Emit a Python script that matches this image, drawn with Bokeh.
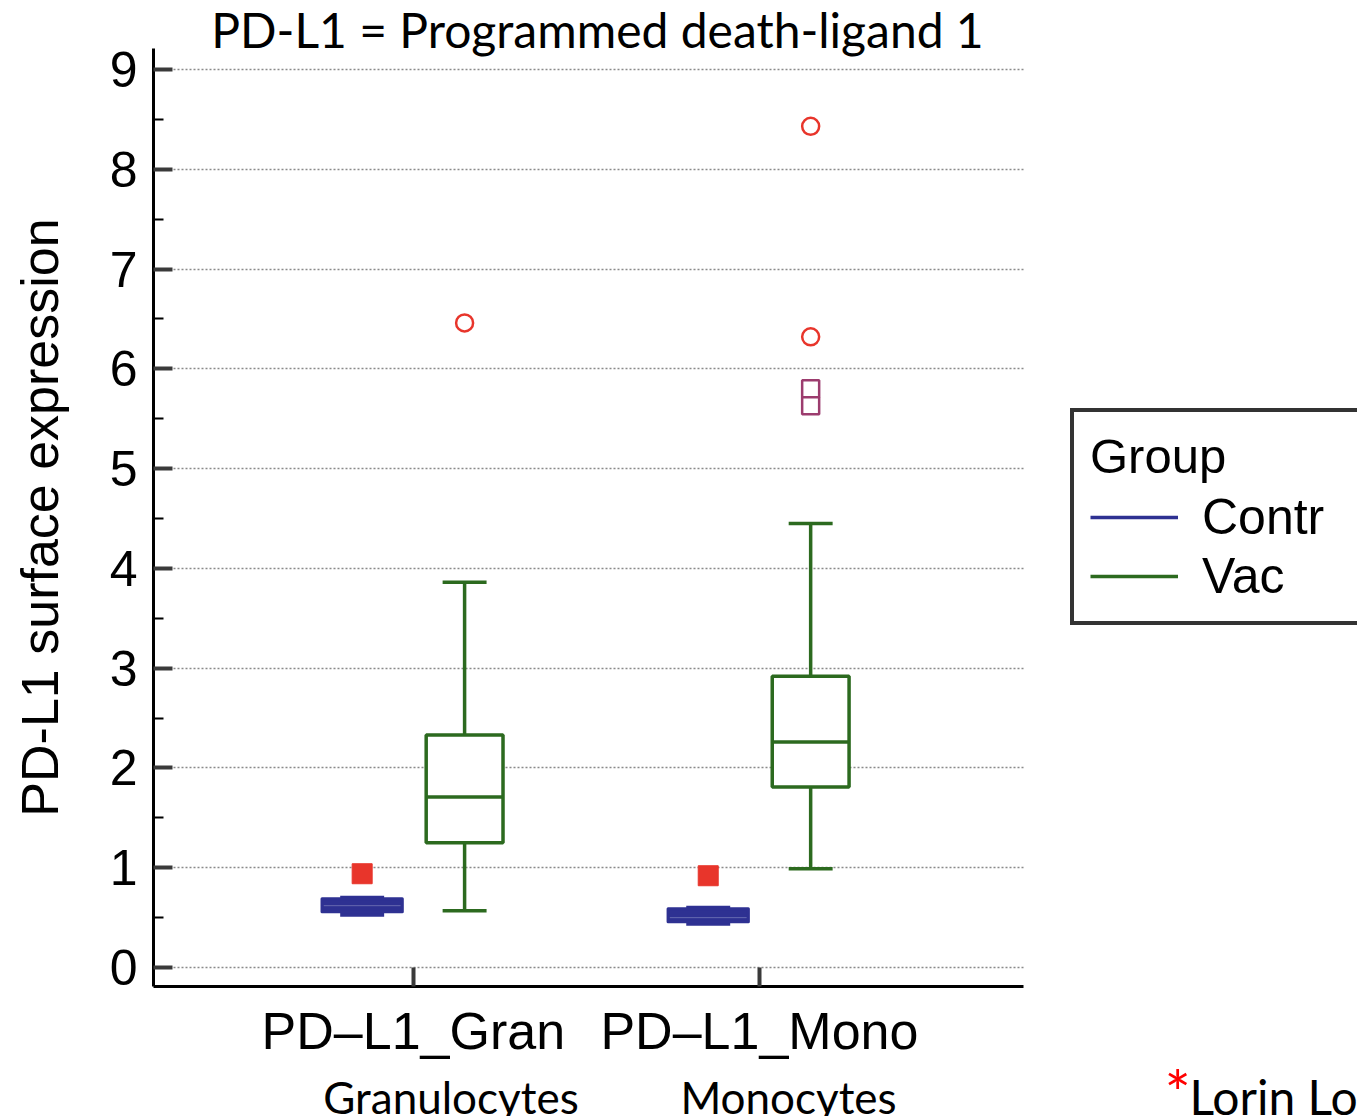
from bokeh.plotting import figure
from bokeh.models import FixedTicker, Label, Legend, LegendItem, Range1d
from bokeh.embed import file_html
from bokeh.resources import INLINE

# ---- data ----
groups = ["PD\u2013L1_Gran", "PD\u2013L1_Mono"]
subtitles = ["Granulocytes", "Monocytes"]
series = ["Contr", "Vac"]

contr_low = [0.53, 0.44]
contr_q1 = [0.56, 0.46]
contr_med = [0.62, 0.50]
contr_q3 = [0.69, 0.59]
contr_high = [0.70, 0.60]

vac_low = [0.57, 0.99]
vac_q1 = [1.25, 1.81]
vac_med = [1.71, 2.26]
vac_q3 = [2.33, 2.92]
vac_high = [3.86, 4.45]

contr_out_cat = [0, 1]
contr_out = [0.94, 0.92]
vac_out_cat = [0, 1, 1]
vac_out = [6.46, 8.43, 6.32]
vac_far_cat = [1, 1]
vac_far = [5.80, 5.63]

y_ticks = [0, 1, 2, 3, 4, 5, 6, 7, 8, 9]
y_minor = [0.5, 1.5, 2.5, 3.5, 4.5, 5.5, 6.5, 7.5, 8.5]

# ---- style / layout ----
BLUE = "#2e3192"
GREEN = "#2c6a1f"
RED = "#e8352b"
PURPLE = "#9c3c6e"
OFF = 0.148
BOXW = 0.222
CAPW = 0.127
ARIAL = "Liberation Sans"
CAL = "Lato"

X_AX = (0.249, 2.763)    # axis extent (data)
Y_AX = (-0.19, 9.21)

p = figure(width=1357, height=1116, title=None,
           x_range=Range1d(-0.1931, 3.7282), y_range=Range1d(-1.4927, 9.6907),
           output_backend="svg", toolbar_location=None,
           min_border_left=0, min_border_right=0,
           min_border_top=0, min_border_bottom=0)
p.outline_line_color = None
p.background_fill_color = "white"
p.border_fill_color = "white"

def xpos(cats, off):
    return [c + 1 + off for c in cats]

cidx = list(range(len(groups)))
xc = xpos(cidx, -OFF)
xv = xpos(cidx, OFF)

# grid
p.xgrid.grid_line_color = None
yg = p.ygrid[0]
yg.ticker = FixedTicker(ticks=y_ticks)
if "cross_bounds" in yg.properties():
    yg.cross_bounds = X_AX
    yg.grid_line_color = "#8a8a8a"
    yg.grid_line_dash = "2 2"
    yg.grid_line_width = 1.5
else:
    yg.grid_line_color = None
    p.segment(x0=[X_AX[0]] * len(y_ticks), x1=[X_AX[1]] * len(y_ticks),
              y0=y_ticks, y1=y_ticks, line_color="#8a8a8a",
              line_dash="2 2", line_width=1.5)

# ---- Vac boxes ----
LW = 3.5
r_v = p.segment(x0=xv, x1=xv, y0=vac_q3, y1=vac_high, line_color=GREEN, line_width=LW)
p.segment(x0=xv, x1=xv, y0=vac_low, y1=vac_q1, line_color=GREEN, line_width=LW)
p.segment(x0=[x - CAPW / 2 for x in xv], x1=[x + CAPW / 2 for x in xv],
          y0=vac_high, y1=vac_high, line_color=GREEN, line_width=LW)
p.segment(x0=[x - CAPW / 2 for x in xv], x1=[x + CAPW / 2 for x in xv],
          y0=vac_low, y1=vac_low, line_color=GREEN, line_width=LW)
p.vbar(x=xv, width=BOXW, bottom=vac_q1, top=vac_q3, fill_color="white",
       line_color=GREEN, line_width=LW)
p.segment(x0=[x - BOXW / 2 for x in xv], x1=[x + BOXW / 2 for x in xv],
          y0=vac_med, y1=vac_med, line_color=GREEN, line_width=LW)

# ---- Contr boxes ----
r_c = p.segment(x0=xc, x1=xc, y0=contr_q3, y1=contr_high, line_color=BLUE, line_width=LW)
p.segment(x0=xc, x1=xc, y0=contr_low, y1=contr_q1, line_color=BLUE, line_width=LW)
p.segment(x0=[x - CAPW / 2 for x in xc], x1=[x + CAPW / 2 for x in xc],
          y0=contr_high, y1=contr_high, line_color=BLUE, line_width=4)
p.segment(x0=[x - CAPW / 2 for x in xc], x1=[x + CAPW / 2 for x in xc],
          y0=contr_low, y1=contr_low, line_color=BLUE, line_width=4)
p.vbar(x=xc, width=BOXW + 0.01, bottom=contr_q1, top=contr_q3, fill_color=BLUE,
       line_color=BLUE, line_width=3, line_join="round")
p.segment(x0=[x - BOXW / 2 for x in xc], x1=[x + BOXW / 2 for x in xc],
          y0=contr_med, y1=contr_med, line_color="#6669b0", line_width=1)

# ---- outliers ----
p.scatter(x=xpos(contr_out_cat, -OFF), y=contr_out, marker="square", size=20,
          fill_color=RED, line_color=RED, line_width=1)
p.scatter(x=xpos(vac_out_cat, OFF), y=vac_out, marker="circle", size=17,
          fill_color="white", line_color=RED, line_width=2.5)
p.scatter(x=xpos(vac_far_cat, OFF), y=vac_far, marker="square", size=17,
          fill_color="white", line_color=PURPLE, line_width=2.5)

# ---- axes ----
xa = p.xaxis[0]
xa.fixed_location = Y_AX[0]
xa.bounds = X_AX
xa.ticker = FixedTicker(ticks=[c + 1 for c in cidx])
xa.major_label_overrides = {c + 1: g for c, g in zip(cidx, groups)}
xa.axis_line_width = 3
xa.axis_line_color = "black"
xa.major_tick_in = 19
xa.major_tick_out = 0
xa.major_tick_line_width = 4
xa.major_tick_line_color = "#3a3a3a"
xa.minor_tick_line_color = None
xa.major_label_text_font = ARIAL
xa.major_label_text_font_size = "52px"
xa.major_label_text_color = "black"
xa.major_label_standoff = 15

ya = p.yaxis[0]
ya.fixed_location = X_AX[0]
ya.bounds = Y_AX
ya.ticker = FixedTicker(ticks=y_ticks, minor_ticks=y_minor)
ya.axis_line_width = 3
ya.axis_line_color = "black"
ya.major_tick_in = 19
ya.major_tick_out = 0
ya.major_tick_line_width = 4
ya.major_tick_line_color = "#3a3a3a"
ya.minor_tick_in = 10
ya.minor_tick_out = 0
ya.minor_tick_line_width = 2
ya.minor_tick_line_color = "black"
ya.major_label_text_font = ARIAL
ya.major_label_text_font_size = "50px"
ya.major_label_text_color = "black"
ya.major_label_standoff = 16
ya.axis_label = "PD-L1 surface expression"
ya.axis_label_text_font = ARIAL
ya.axis_label_text_font_size = "52px"
ya.axis_label_text_font_style = "normal"
ya.axis_label_text_color = "black"
ya.axis_label_standoff = 38

# ---- legend ----
legend = Legend(items=[LegendItem(label=series[0], renderers=[r_c], index=0),
                       LegendItem(label=series[1], renderers=[r_v], index=0)],
                location=(1070, 491), title="Group",
                title_text_font=ARIAL, title_text_font_size="49px",
                title_text_font_style="normal", title_text_color="black",
                title_standoff=4,
                label_text_font=ARIAL, label_text_font_size="50px",
                label_text_color="black",
                glyph_width=88, glyph_height=58, label_height=58,
                label_width=200, label_standoff=24, spacing=1, padding=16,
                border_line_color="#333333", border_line_width=4,
                border_line_alpha=1.0,
                background_fill_color="white", background_fill_alpha=1.0,
                margin=0)
p.add_layout(legend)

# ---- texts (text_baseline middle; y = visual middle of the em box) ----
p.add_layout(Label(x=1.532, y=9.40, text="PD-L1 = Programmed death-ligand 1",
                   text_font=CAL, text_font_size="48px", text_align="center",
                   text_baseline="middle", text_color="black"))
sub_x = [1.1087, 2.084]
for sx, s in zip(sub_x, subtitles):
    p.add_layout(Label(x=sx, y=-1.2923, text=s, text_font=CAL,
                       text_font_size="44px", text_align="center",
                       text_baseline="middle", text_color="black"))
p.add_layout(Label(x=3.1705, y=-1.2483, text="*", text_font=CAL,
                   text_font_size="62px", text_baseline="middle",
                   text_color="red"))
p.add_layout(Label(x=3.2425, y=-1.2883, text="Lorin Lo", text_font=CAL,
                   text_font_size="48px", text_baseline="middle",
                   text_color="black"))

open("out.html", "w").write(file_html(p, INLINE))
